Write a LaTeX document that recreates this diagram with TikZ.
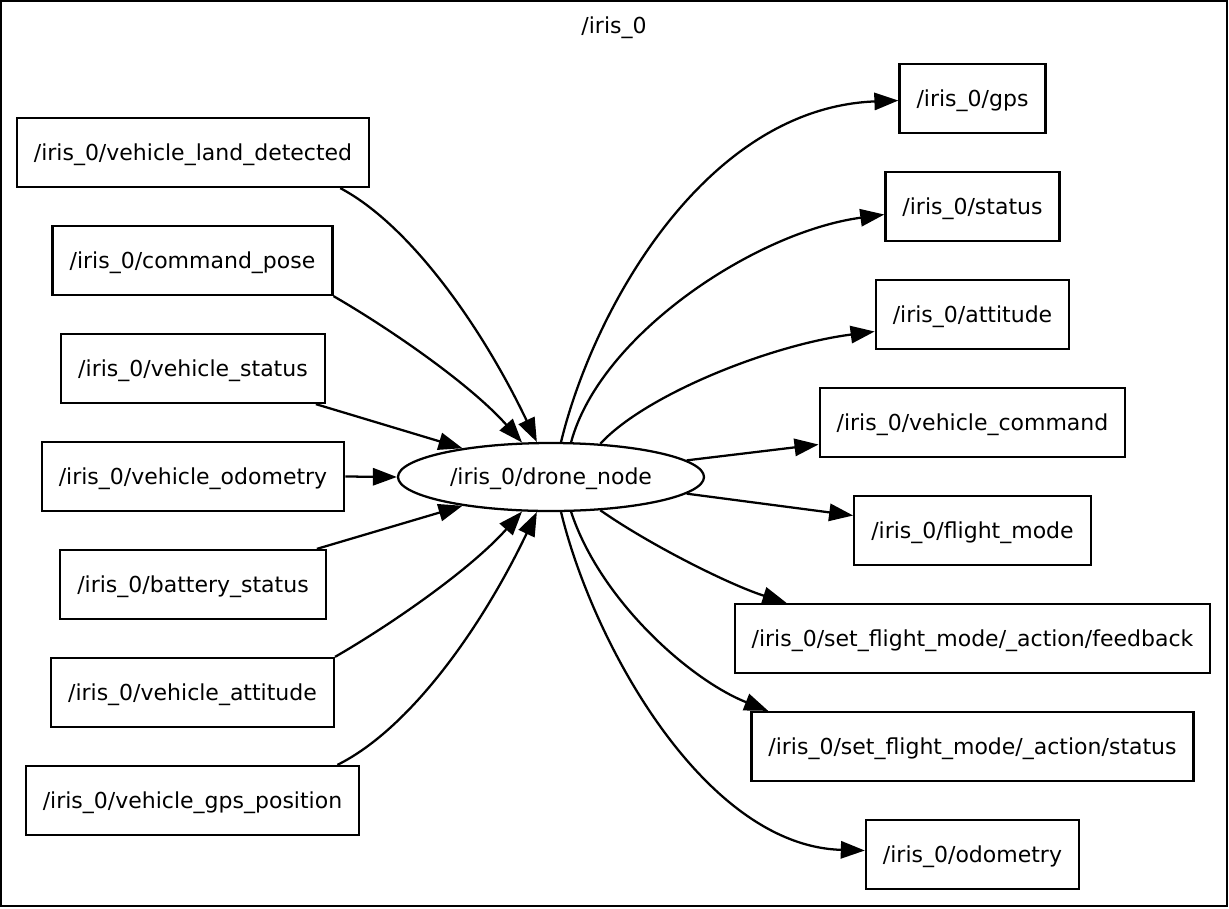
\documentclass[tikz,border=0pt]{standalone}
\usepackage{fontspec}
\setmainfont{DejaVu Sans}
\usetikzlibrary{arrows.meta,shapes.geometric,calc}

\tikzset{every picture/.style={line width=1.7pt}}
\tikzset{
	topic/.style={draw, rectangle, inner xsep=12.75pt, inner ysep=0pt, minimum height=51.75pt, text height=13pt, text depth=1.5pt, font=\fontsize{16.5}{20}\selectfont},
	rosnode/.style={draw, ellipse, inner sep=0pt, minimum width=229.5pt, minimum height=51pt, text height=13pt, text depth=1.5pt, font=\fontsize{16.5}{20}\selectfont},
	link/.style={-{Triangle[length=18pt,width=13pt]}}
}

\begin{document}
\begin{tikzpicture}[x=0.75pt,y=0.75pt,yscale=-1,xscale=1]
				\useasboundingbox (0,0) rectangle (1229,908);
				
				%Cluster frame
				\draw (1,1) rectangle (1227,906);
				% Text Node
				\node[font=\fontsize{16.5}{20}\selectfont, text height=13pt, text depth=1.5pt] (cluster) at (614,25.5) {/iris\_0};
				
				%Drone node
				\node[rosnode] (drone) at (551,477) {/iris\_0/drone\_node};
				
				%Subscribed topics
				\node[topic] (land) at (193,152.5) {/iris\_0/vehicle\_land\_detected};
				\node[topic] (cmdpose) at (192.5,260.5) {/iris\_0/command\_pose};
				\node[topic] (vstatus) at (193,368.5) {/iris\_0/vehicle\_status};
				\node[topic] (vodom) at (193,476.5) {/iris\_0/vehicle\_odometry};
				\node[topic] (battery) at (193,584.5) {/iris\_0/battery\_status};
				\node[topic] (vatt) at (192.5,692.5) {/iris\_0/vehicle\_attitude};
				\node[topic] (vgps) at (192.5,800.5) {/iris\_0/vehicle\_gps\_position};
				
				%Published topics
				\node[topic] (gps) at (972.5,98.5) {/iris\_0/gps};
				\node[topic] (status) at (972.5,206.5) {/iris\_0/status};
				\node[topic] (attitude) at (972.5,314.5) {/iris\_0/attitude};
				\node[topic] (vcmd) at (972.5,422.5) {/iris\_0/vehicle\_command};
				\node[topic] (fmode) at (972.5,530.5) {/iris\_0/flight\_mode};
				\node[topic] (feedback) at (972.5,638.5) {/iris\_0/set\_flight\_mode/\_action/feedback};
				\node[topic] (astatus) at (972.5,746.5) {/iris\_0/set\_flight\_mode/\_action/status};
				\node[topic] (odom) at (972.5,854.5) {/iris\_0/odometry};
				
				%Incoming edges
				\draw[link] ($(land.south east)+(-30,0)$) .. controls (410,225) and (482,327) .. (drone.112);
				\draw[link] (cmdpose.south east) .. controls (392,330) and (471,385) .. (drone.130);
				\draw[link] ($(vstatus.south east)+(-10,0)$) -- (drone.162);
				\draw[link] (vodom.east) -- (drone.west);
				\draw[link] ($(battery.north east)+(-10,0)$) -- (drone.198);
				\draw[link] (vatt.north east) .. controls (392,624) and (471,569) .. (drone.230);
				\draw[link] ($(vgps.north east)+(-23,0)$) .. controls (410,729) and (482,627) .. (drone.248);
				
				%Outgoing edges
				\draw[link] (drone.74) .. controls (593,310) and (705,108) .. ($(gps.west)+(0,2)$);
				\draw[link] (drone.60) .. controls (600,335) and (755,232) .. ($(status.west)+(0,8)$);
				\draw[link] (drone.34) .. controls (645,395) and (770,345) .. ($(attitude.west)+(0,17)$);
				\draw[link] (drone.7) -- ($(vcmd.west)+(0,22)$);
				\draw[link] (drone.-7) -- ($(fmode.west)+(0,-15)$);
				\draw[link] (drone.-34) .. controls (650,545) and (730,585) .. ($(feedback.north west)+(53,0)$);
				\draw[link] (drone.-60) .. controls (600,600) and (690,680) .. ($(astatus.north west)+(18,0)$);
				\draw[link] (drone.-74) .. controls (593,644) and (705,846) .. ($(odom.west)+(0,-4)$);
\end{tikzpicture}
\end{document}
